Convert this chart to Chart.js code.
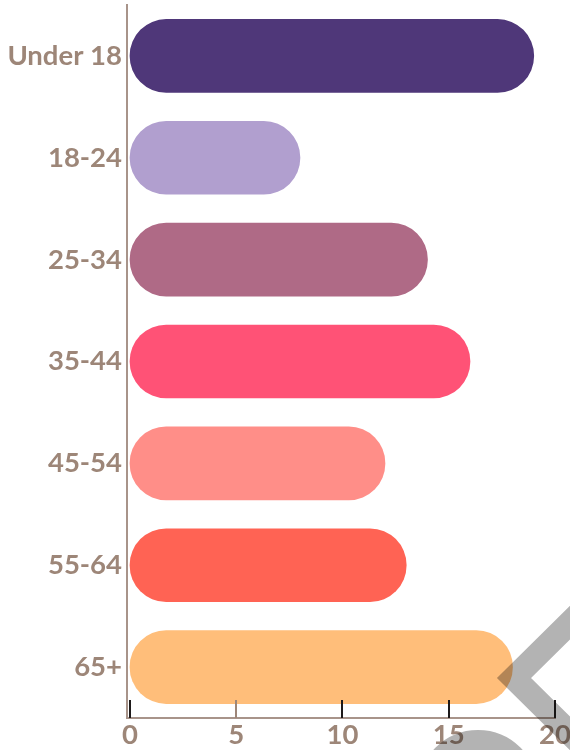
<!DOCTYPE html>
<html>
<head>
<meta charset="utf-8">
<script src="https://cdn.jsdelivr.net/npm/chart.js@4"></script>
<style>
  body { margin: 0; background: #fff; }
  #wrap { width: 570px; height: 750px; }
</style>
</head>
<body>
<div id="wrap"><canvas id="chart" width="570" height="750"></canvas></div>
<script>
const ageGroups = ["Under 18", "18-24", "25-34", "35-44", "45-54", "55-64", "65+"];
const counts = [19, 8, 14, 16, 12, 13, 18];
const barColors = ["#4f3779", "#b19fcf", "#af6a86", "#ff5276", "#ff8e88", "#ff6354", "#ffbe7a"];
const xTicks = [0, 5, 10, 15, 20];

const labelColor = "#9d8678";
const axisColor = "#a8948a";

Chart.defaults.font.family = "Lato";
Chart.defaults.font.weight = "bold";
Chart.defaults.font.size = 27.5;
Chart.defaults.color = labelColor;

// small dark tick marks standing on the x axis
const innerTicks = {
  id: "innerTicks",
  afterDatasetsDraw(chart) {
    const { ctx, chartArea, scales } = chart;
    ctx.save();
    ctx.lineWidth = 2;
    xTicks.forEach((v) => {
      const x = Math.round(scales.x.getPixelForValue(v));
      ctx.strokeStyle = v === 5 ? "#9d8678" : "#1e1a1a";
      ctx.beginPath();
      ctx.moveTo(x, chartArea.bottom - 18);
      ctx.lineTo(x, chartArea.bottom);
      ctx.stroke();
    });
    ctx.restore();
  },
};

// grey watermark in the lower right corner
const watermark = {
  id: "watermark",
  afterDraw(chart) {
    const { ctx } = chart;
    ctx.save();
    ctx.globalCompositeOperation = "multiply";
    ctx.strokeStyle = "#b3b3b3";
    ctx.lineWidth = 24;
    ctx.lineJoin = "miter";
    ctx.beginPath();
    ctx.moveTo(605, 588);
    ctx.lineTo(514, 678);
    ctx.lineTo(605, 768);
    ctx.stroke();
    ctx.beginPath();
    ctx.arc(478, 790, 47, Math.PI, 2 * Math.PI);
    ctx.lineWidth = 26;
    ctx.stroke();
    ctx.restore();
  },
};

new Chart(document.getElementById("chart"), {
  type: "bar",
  data: {
    labels: ageGroups,
    datasets: [
      {
        data: counts,
        backgroundColor: barColors,
        borderRadius: 40,
        borderSkipped: false,
        barThickness: 73,
      },
    ],
  },
  options: {
    indexAxis: "y",
    responsive: false,
    animation: false,
    layout: { padding: { top: 5, right: 15, left: 0, bottom: 0 } },
    plugins: {
      legend: { display: false },
      tooltip: { enabled: false },
    },
    scales: {
      y: {
        grid: { display: false, drawTicks: false },
        border: { display: true, color: axisColor, width: 2 },
        ticks: { padding: 5, color: labelColor },
        afterFit(scale) {
          scale.width = 127;
          scale.paddingTop = 0;
          scale.paddingBottom = 0;
        },
      },
      x: {
        min: -0.14,
        max: 20,
        grid: { display: false, drawTicks: false },
        border: { display: true, color: axisColor, width: 2 },
        ticks: { padding: 1, color: labelColor, maxRotation: 0 },
        afterBuildTicks(scale) {
          scale.ticks = xTicks.map((v) => ({ value: v }));
        },
        afterFit(scale) {
          scale.height = 32;
          scale.paddingLeft = 0;
          scale.paddingRight = 0;
        },
      },
    },
  },
  plugins: [innerTicks, watermark],
});
</script>
</body>
</html>
